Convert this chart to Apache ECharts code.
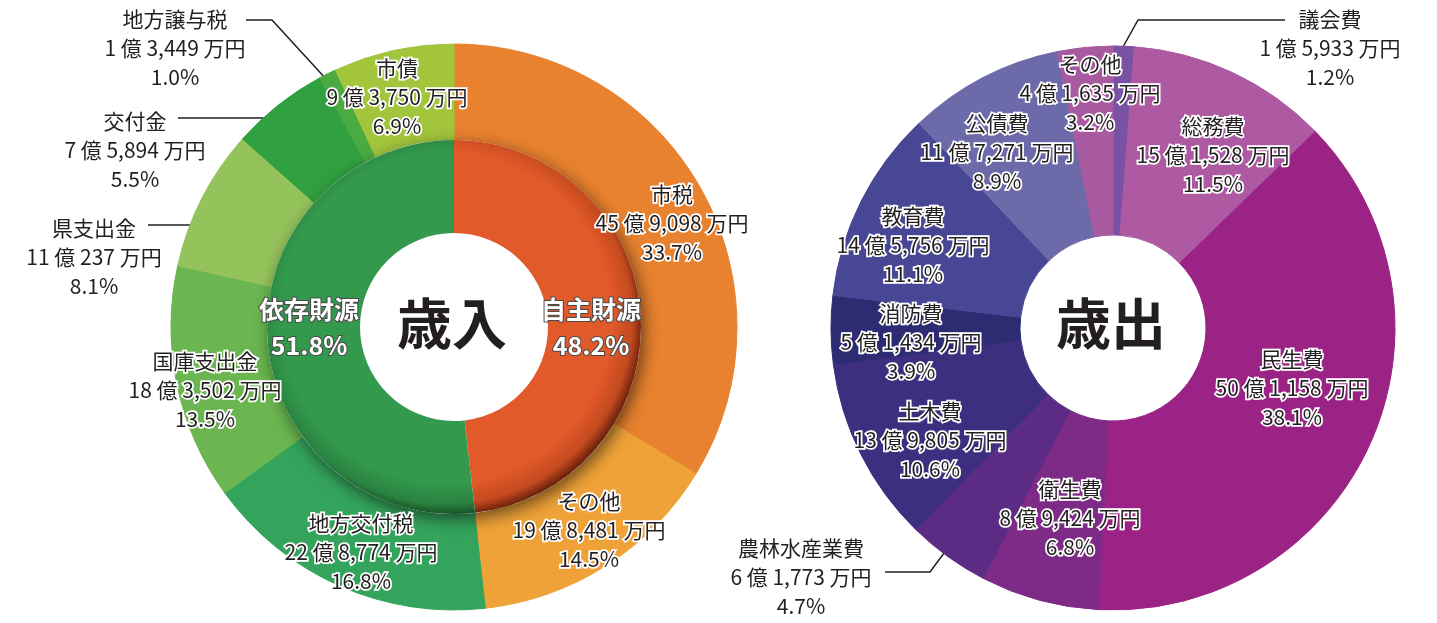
<!DOCTYPE html>
<html>
<head>
<meta charset="UTF-8">
<title>歳入・歳出</title>
<script src="https://cdn.jsdelivr.net/npm/echarts@6/dist/echarts.min.js"></script>
<style>
html, body { margin: 0; padding: 0; background: #fff; }
#main { width: 1437px; height: 623px; }
</style>
</head>
<body>
<div id="main"></div>
<script>
// 歳入 outer ring (万円), clockwise from top
var revNames = ['市税', 'その他', '地方交付税', '国庫支出金', '県支出金', '交付金', '地方譲与税', '市債'];
var revValues = [459098, 198481, 228774, 183502, 110237, 75894, 13449, 93750];
var revPct = ['33.7', '14.5', '16.8', '13.5', '8.1', '5.5', '1.0', '6.9'];
// 歳入 inner ring
var srcNames = ['自主財源', '依存財源'];
var srcPct = [48.2, 51.8];
// 歳出 (万円), clockwise from top
var expNames = ['議会費', '総務費', '民生費', '衛生費', '農林水産業費', '土木費', '消防費', '教育費', '公債費', 'その他'];
var expValues = [15933, 151528, 501158, 89424, 61773, 139805, 51434, 145756, 117271, 41635];
var expPct = ['1.2', '11.5', '38.1', '6.8', '4.7', '10.6', '3.9', '11.1', '8.9', '3.2'];

// styling / label placement
var FONT = '"Noto Sans CJK JP", "Noto Sans", sans-serif';
var revColors = ['#e8822f', '#efa238', '#34a45c', '#6bb650', '#95c35b', '#31a040', '#4caa42', '#a2c53c'];
var revPos = [[672, 223], [589, 530], [361, 552], [205, 390], [94, 257], [135, 150], [175, 48], [397, 97]];
var revLines = {4: [[208, 225], [178, 225], [148, 225]], 5: [[268, 118], [223, 118], [178, 118]], 6: [[327, 80], [272, 20], [246, 20]]};
var srcPos = [[591, 327], [309, 327]];
var srcBase = [['#e2592a', '#c44a1f', '#5e1a08'], ['#33994c', '#2a8240', '#10401c']];
var expColors = ['#7a52a4', '#ad5aa2', '#9b2385', '#7e2b88', '#5c2b83', '#3d2e80', '#2d2b72', '#484796', '#6d6aa9', '#a75a9f'];
var expPos = [[1330, 48], [1213, 155], [1292, 388], [1070, 518], [801, 577], [930, 440], [911, 342], [913, 245], [997, 152], [1090, 93]];
var expLines = {0: [[1123, 47], [1138, 20], [1285, 20]], 4: [[950, 545], [930, 572], [885, 572]]};

function fmt(v) {
    var oku = Math.floor(v / 10000);
    var man = (v % 10000).toLocaleString('en-US');
    return oku + ' 億 ' + man + ' 万円';
}

function buildData(names, values, colors, lines) {
    return names.map(function (n, i) {
        // border in the slice's own colour hides anti-alias seams
        var d = {name: n, value: values[i], itemStyle: {color: colors[i], borderColor: colors[i], borderWidth: 1}, labelLine: {show: !!lines[i]}};
        if (lines[i]) d.label = {textBorderWidth: 0};
        return d;
    });
}

function layoutFn(pos, lines) {
    return function (p) {
        var i = p.dataIndex;
        var o = {x: pos[i][0], y: pos[i][1], align: 'center', verticalAlign: 'middle'};
        if (lines[i]) o.labelLinePoints = lines[i];
        return o;
    };
}

var ringLabel = {
    position: 'outside',
    fontFamily: FONT,
    fontSize: 21,
    lineHeight: 29,
    color: '#231f20',
    textBorderColor: '#fff',
    textBorderWidth: 3.5
};
var ringLine = {show: true, length: 10, length2: 10, lineStyle: {color: '#231f20', width: 1.5}};

var chart = echarts.init(document.getElementById('main'));
var option = {
    animation: false,
    backgroundColor: '#fff',
    series: [
        {
            type: 'pie',
            center: [454, 327],
            radius: [186, 283],
            startAngle: 90,
            avoidLabelOverlap: false,
            silent: true,
            label: Object.assign({}, ringLabel, {
                formatter: function (p) {
                    return p.name + '\n' + fmt(p.value) + '\n' + revPct[p.dataIndex] + '%';
                }
            }),
            labelLine: ringLine,
            labelLayout: layoutFn(revPos, revLines),
            data: buildData(revNames, revValues, revColors, revLines)
        },
        {
            // white disc casting the drop shadow under the inner ring
            type: 'pie',
            center: [454, 327],
            radius: [0, 187],
            silent: true,
            label: {show: false},
            itemStyle: {color: '#fff', borderWidth: 0, shadowBlur: 16, shadowColor: 'rgba(0,0,0,0.55)', shadowOffsetX: 3, shadowOffsetY: 5},
            data: [{value: 1}]
        },
        {
            type: 'pie',
            center: [454, 327],
            radius: [94, 187],
            startAngle: 90,
            silent: true,
            avoidLabelOverlap: false,
            label: {
                position: 'outside',
                fontFamily: FONT,
                fontSize: 25,
                fontWeight: 'bold',
                lineHeight: 36,
                color: '#fff',
                textBorderColor: '#4a4a4a',
                textBorderWidth: 2,
                formatter: function (p) {
                    return p.name + '\n' + srcPct[p.dataIndex] + '%';
                }
            },
            labelLine: {show: false},
            labelLayout: layoutFn(srcPos, {}),
            data: srcNames.map(function (n, i) {
                var grad = {
                    type: 'radial', x: 446, y: 318, r: 200, global: true,
                    colorStops: [
                        {offset: 0, color: srcBase[i][0]},
                        {offset: 0.83, color: srcBase[i][0]},
                        {offset: 0.93, color: srcBase[i][1]},
                        {offset: 1, color: srcBase[i][2]}
                    ]
                };
                return {name: n, value: srcPct[i], itemStyle: {color: grad, borderWidth: 0}};
            })
        },
        {
            type: 'pie',
            center: [1113, 328],
            radius: [93, 282],
            startAngle: 90,
            silent: true,
            avoidLabelOverlap: false,
            label: Object.assign({}, ringLabel, {
                formatter: function (p) {
                    return p.name + '\n' + fmt(p.value) + '\n' + expPct[p.dataIndex] + '%';
                }
            }),
            labelLine: ringLine,
            labelLayout: layoutFn(expPos, expLines),
            data: buildData(expNames, expValues, expColors, expLines)
        }
    ],
    graphic: [
        {type: 'text', left: 453 - 56, top: 330 - 34, z: 100,
         style: {text: '歳入', font: 'bold 55px ' + FONT, fill: '#231f20'}},
        {type: 'text', left: 1112 - 56, top: 330 - 34, z: 100,
         style: {text: '歳出', font: 'bold 55px ' + FONT, fill: '#231f20'}}
    ]
};
chart.setOption(option);
</script>
</body>
</html>
